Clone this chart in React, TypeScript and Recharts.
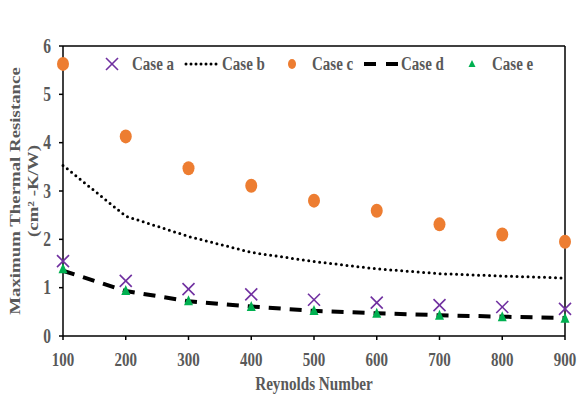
import { ComposedChart, Line, Scatter, XAxis, YAxis, ReferenceLine, Legend } from "recharts";

const reynolds = [100, 200, 300, 400, 500, 600, 700, 800, 900];
const caseA = [1.55, 1.14, 0.97, 0.86, 0.75, 0.69, 0.64, 0.6, 0.56];
const caseB = [3.53, 2.48, 2.06, 1.73, 1.54, 1.39, 1.29, 1.24, 1.2];
const caseC = [5.63, 4.13, 3.47, 3.11, 2.8, 2.59, 2.31, 2.1, 1.95];
const caseD = [1.35, 0.93, 0.72, 0.61, 0.52, 0.47, 0.43, 0.4, 0.37];
const caseE = [1.4, 0.95, 0.74, 0.62, 0.54, 0.48, 0.44, 0.41, 0.38];
const xTicks = [100, 200, 300, 400, 500, 600, 700, 800, 900];
const yTicks = [0, 1, 2, 3, 4, 5, 6];

const data = reynolds.map((re, i) => ({
  re,
  a: caseA[i],
  b: caseB[i],
  c: caseC[i],
  d: caseD[i],
  e: caseE[i],
}));

const FONT = "'Liberation Serif', 'Times New Roman', serif";
const GREY = "#595959";
const PURPLE = "#7030A0";
const ORANGE = "#ED7D31";
const GREEN = "#00B050";
// the reference text looks stretched vertically
const STRETCH = 1.3;

const Cross = (props: any) => {
  const { cx, cy } = props;
  const s = 6;
  return (
    <g stroke={PURPLE} strokeWidth={1.6}>
      <line x1={cx - s} y1={cy - s} x2={cx + s} y2={cy + s} />
      <line x1={cx - s} y1={cy + s} x2={cx + s} y2={cy - s} />
    </g>
  );
};

const Dot = (props: any) => {
  const { cx, cy } = props;
  return <ellipse cx={cx} cy={cy} rx={6} ry={7} fill={ORANGE} />;
};

const Tri = (props: any) => {
  const { cx, cy } = props;
  return <polygon points={`${cx},${cy - 5} ${cx - 4.5},${cy + 5} ${cx + 4.5},${cy + 5}`} fill={GREEN} />;
};

const XTick = (props: any) => {
  const { x, y, payload } = props;
  return (
    <text transform={`translate(${x},${y + 24}) scale(1,${STRETCH})`} textAnchor="middle"
      fontFamily={FONT} fontWeight={700} fontSize={15} fill={GREY}>
      {payload.value}
    </text>
  );
};

const YTick = (props: any) => {
  const { x, y, payload } = props;
  return (
    <text transform={`translate(${x},${y + 6.5}) scale(1,${STRETCH})`} textAnchor="end"
      fontFamily={FONT} fontWeight={700} fontSize={15.5} fill={GREY}>
      {payload.value}
    </text>
  );
};

const legendItems = [
  { label: "Case a", x: 132 },
  { label: "Case b", x: 222 },
  { label: "Case c", x: 312 },
  { label: "Case d", x: 401 },
  { label: "Case e", x: 492 },
];

const LegendBox = () => (
  <svg width={578} height={30} style={{ display: "block" }}>
    <g stroke={PURPLE} strokeWidth={1.6}>
      <line x1={106} y1={9} x2={118} y2={21} />
      <line x1={106} y1={21} x2={118} y2={9} />
    </g>
    <line x1={186} y1={15} x2={219} y2={15} stroke="#000" strokeWidth={3} strokeDasharray="0 5" strokeLinecap="round" />
    <ellipse cx={292} cy={15} rx={4} ry={5} fill={ORANGE} />
    <line x1={364} y1={15} x2={398} y2={15} stroke="#000" strokeWidth={4} strokeDasharray="12 10" />
    <polygon points="472,11 468.5,18 475.5,18" fill={GREEN} />
    {legendItems.map((it) => (
      <text key={it.label} transform={`translate(${it.x},21) scale(1,${STRETCH})`}
        fontFamily={FONT} fontWeight={700} fontSize={15} fill={GREY}>
        {it.label}
      </text>
    ))}
  </svg>
);

const YTitle = (props: any) => {
  const { viewBox } = props;
  const cy = viewBox.y + viewBox.height / 2;
  return (
    <g fontFamily={FONT} fontWeight={700} fontSize={14.5} fill={GREY} textAnchor="middle">
      <text transform={`translate(20, ${cy}) rotate(-90) scale(1.3,1)`}>Maximum Thermal Resistance</text>
      <text transform={`translate(38, ${cy}) rotate(-90) scale(1.3,1)`}>(cm² -K/W)</text>
    </g>
  );
};

const XTitle = (props: any) => {
  const { viewBox } = props;
  const cx = viewBox.x + viewBox.width / 2;
  return (
    <text transform={`translate(${cx}, 390) scale(1,${STRETCH})`} textAnchor="middle"
      fontFamily={FONT} fontWeight={700} fontSize={15.2} fill={GREY}>
      Reynolds Number
    </text>
  );
};

export default function App() {
  return (
    <div style={{ position: "absolute", left: 0, top: 0, background: "#fff" }}>
      <ComposedChart width={578} height={398} data={data} margin={{ top: 16, right: 13, bottom: 0, left: 35 }}>
        <XAxis
          dataKey="re"
          type="number"
          domain={[100, 900]}
          ticks={xTicks}
          height={62}
          axisLine={{ stroke: "#000", strokeWidth: 1.5 }}
          tickLine={{ stroke: "#000", strokeWidth: 1.5 }}
          tickSize={4}
          tick={<XTick />}
          label={<XTitle />}
        />
        <YAxis
          type="number"
          domain={[0, 6]}
          ticks={yTicks}
          width={28}
          axisLine={{ stroke: "#000", strokeWidth: 1.5 }}
          tickLine={{ stroke: "#000", strokeWidth: 1.5 }}
          tickSize={4}
          tickMargin={8}
          tick={<YTick />}
          label={<YTitle />}
        />
        <ReferenceLine y={6} stroke="#000" strokeWidth={1.5} />
        <ReferenceLine x={900} stroke="#000" strokeWidth={1.5} />
        <Legend verticalAlign="top" content={<LegendBox />} wrapperStyle={{ left: 0, top: 49, width: 578 }} />
        <Line dataKey="b" stroke="#000" strokeWidth={3} strokeDasharray="0 5.5" strokeLinecap="round" dot={false} isAnimationActive={false} />
        <Line dataKey="d" stroke="#000" strokeWidth={4} strokeDasharray="12 9" dot={false} isAnimationActive={false} />
        <Scatter dataKey="c" shape={<Dot />} isAnimationActive={false} />
        <Scatter dataKey="a" shape={<Cross />} isAnimationActive={false} />
        <Scatter dataKey="e" shape={<Tri />} isAnimationActive={false} />
      </ComposedChart>
    </div>
  );
}
